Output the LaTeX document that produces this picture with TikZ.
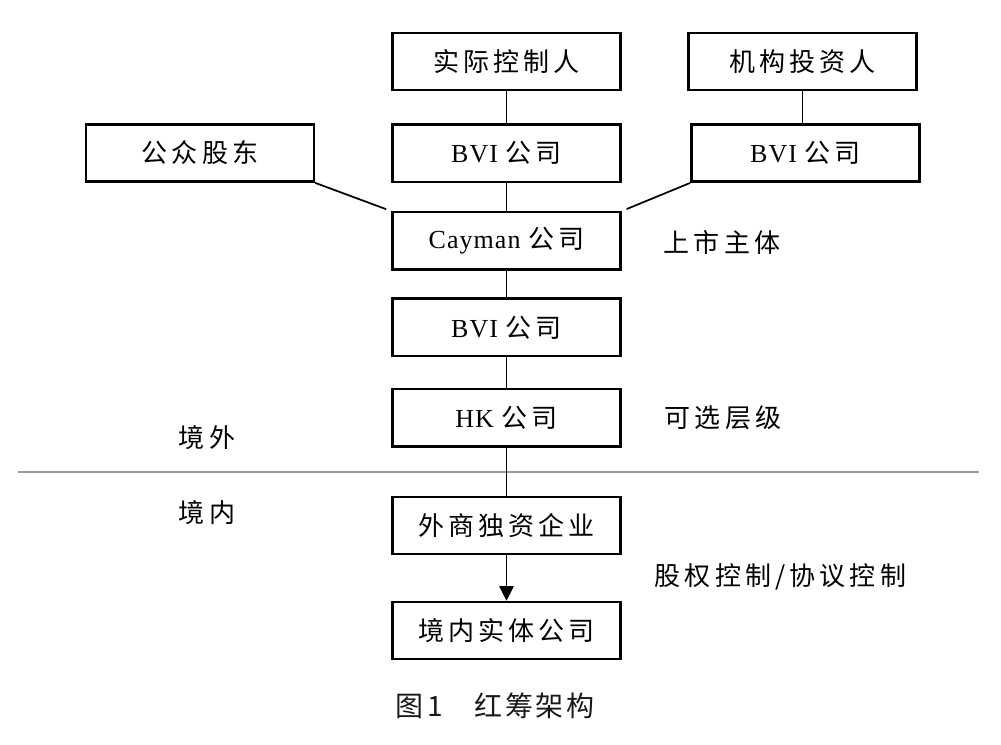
\documentclass[tikz,border=0pt]{standalone}
\usepackage{fontspec}
\setmainfont{Liberation Serif}[LetterSpace=4]
\newfontfamily\cjk{Noto Sans CJK SC}[LetterSpace=16]
\newfontfamily\cjkcap{Noto Sans CJK SC}[LetterSpace=10]
\usetikzlibrary{positioning, arrows.meta}

\tikzset{
	box/.style={draw, line width=1.8pt, minimum width=171pt, minimum height=43pt, font=\fontsize{19.5pt}{23pt}\selectfont},
	lbl/.style={font=\fontsize{19.5pt}{23pt}\selectfont\cjk},
	link/.style={line width=0.8pt},
	slant/.style={line width=1.3pt, shorten >=4pt}
}

\begin{document}
\begin{tikzpicture}[x=0.75pt, y=-0.75pt]
		\useasboundingbox (0,0) rectangle (1001,745);

		\node[box] (ctrl) at (506.5,61.5) {\cjk 实际控制人};
		\node[box, below=24pt of ctrl] (bvia) {BVI {\cjk 公司}};
		\node[box, below=21pt of bvia] (cay) {Cayman {\cjk 公司}};
		\node[box, below=20pt of cay] (bvic) {BVI {\cjk 公司}};
		\node[box, below=23pt of bvic] (hk) {HK {\cjk 公司}};
		\node[box, below=36pt of hk] (wfoe) {\cjk 外商独资企业};
		\node[box, below=34pt of wfoe] (ent) {\cjk 境内实体公司};

		\node[box] (pub) at (200,153) {\cjk 公众股东};
		\node[box] (inst) at (802.5,61.5) {\cjk 机构投资人};
		\node[box] (bvib) at (805.5,153) {BVI {\cjk 公司}};

		\node[lbl, anchor=west] (list) at (659,242) {上市主体};
		\node[lbl, anchor=west] (opt) at (660,418) {可选层级};
		\node[lbl, anchor=west] (ctl) at (650,577) {股权控制/协议控制};
		\node[lbl] (out) at (207,438) {境外};
		\node[lbl] (in) at (207,513) {境内};

		\node[font=\fontsize{21pt}{25pt}\selectfont\cjkcap, text=black!90] (cap) at (495,706) {图\,1\hspace{1.1em}红筹架构};

		\draw[black!40, line width=1.4pt] (18,472) -- (979,472);

		\draw[link] (ctrl) -- (bvia);
		\draw[link] (bvia) -- (cay);
		\draw[link] (cay) -- (bvic);
		\draw[link] (bvic) -- (hk);
		\draw[link] (hk) -- (wfoe);
		\draw[link] (inst) -- (inst |- bvib.north);
		\draw[link, -{Triangle[width=11pt,length=11pt]}] (wfoe) -- (ent);
		\draw[slant] (pub.south east) -- (cay.north west);
		\draw[slant] (bvib.south west) -- (cay.north east);
	\end{tikzpicture}
\end{document}
